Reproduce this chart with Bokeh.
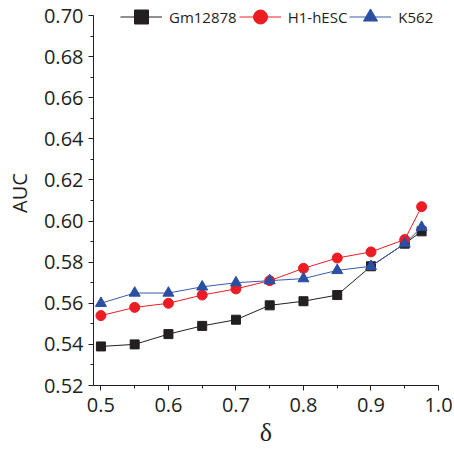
from bokeh.plotting import figure
from bokeh.models import (Range1d, SingleIntervalTicker, PrintfTickFormatter, Legend, LegendItem, ColumnDataSource)
from bokeh.embed import file_html
from bokeh.resources import INLINE

delta = [0.5, 0.55, 0.6, 0.65, 0.7, 0.75, 0.8, 0.85, 0.9, 0.95, 0.975]
gm12878 = [0.539, 0.540, 0.545, 0.549, 0.552, 0.559, 0.561, 0.564, 0.578, 0.589, 0.595]
h1_hesc = [0.554, 0.558, 0.560, 0.564, 0.567, 0.571, 0.577, 0.582, 0.585, 0.591, 0.607]
k562 = [0.560, 0.565, 0.565, 0.568, 0.570, 0.571, 0.572, 0.576, 0.578, 0.589, 0.597]
series_names = ["Gm12878", "H1-hESC", "K562"]

FONT = "Open Sans"
DARK = "#231f20"

# frame: left edge at 93 px, y=0.52 at 385 px, y=0.70 at 15 px
y_top = 0.52 + 385.0 / 370.0 * 0.18

p = figure(width=454, height=450, output_backend="svg", toolbar_location=None,
           x_range=Range1d(0.489, 1.0), y_range=Range1d(0.52, y_top),
           min_border_left=93, min_border_right=16, min_border_top=0, min_border_bottom=65)
p.frame_width = 345
p.frame_height = 385
p.outline_line_color = None
p.xgrid.visible = False
p.ygrid.visible = False
p.background_fill_color = "white"

series = [
    (gm12878, "#231f20", "#231f20", "square", 9),
    (h1_hesc, "#ed1c24", "#ed1c24", "circle", 10),
    (k562, "#2b4fa2", "#3a5bab", "triangle", 11),
]
items = []
for (vals, mcol, lcol, marker, sz), name in zip(series, series_names):
    src = ColumnDataSource(dict(x=delta, y=vals))
    lr = p.line("x", "y", source=src, line_color=lcol, line_width=1)
    sr = p.scatter("x", "y", source=src, marker=marker, size=sz, fill_color=mcol, line_color=mcol)
    items.append(LegendItem(label=name, renderers=[lr, sr]))

legend = Legend(items=items, orientation="horizontal", location=(27, 351),
                glyph_width=42, glyph_height=35, label_standoff=7, spacing=2,
                padding=0, margin=0, border_line_color=None, background_fill_alpha=0,
                label_text_font=FONT, label_text_font_size="15px", label_text_color=DARK)
p.add_layout(legend, "center")

for ax in (p.xaxis[0], p.yaxis[0]):
    ax.axis_line_color = DARK
    ax.major_tick_line_color = DARK
    ax.minor_tick_line_color = DARK
    ax.major_tick_out = 5
    ax.major_tick_in = 0
    ax.minor_tick_out = 3
    ax.minor_tick_in = 0
    ax.major_label_text_font = FONT
    ax.major_label_text_font_size = "20px"
    ax.major_label_text_color = DARK
    ax.axis_label_text_font_style = "normal"
    ax.axis_label_text_color = DARK

p.yaxis.bounds = (0.52, 0.7001)
p.xaxis.ticker = SingleIntervalTicker(interval=0.1, num_minor_ticks=2)
p.yaxis.ticker = SingleIntervalTicker(interval=0.02, num_minor_ticks=2)
p.xaxis.formatter = PrintfTickFormatter(format="%.1f")
p.yaxis.formatter = PrintfTickFormatter(format="%.2f")
p.xaxis.major_label_standoff = 7
p.yaxis.major_label_standoff = 5

p.yaxis.axis_label = "AUC"
p.yaxis.axis_label_text_font = FONT
p.yaxis.axis_label_text_font_size = "20px"
p.yaxis.axis_label_standoff = 8

p.xaxis.axis_label = "δ"
p.xaxis.axis_label_text_font = "Liberation Serif"
p.xaxis.axis_label_text_font_size = "26px"
p.xaxis.axis_label_standoff = 3

open("out.html", "w").write(file_html(p, INLINE))
